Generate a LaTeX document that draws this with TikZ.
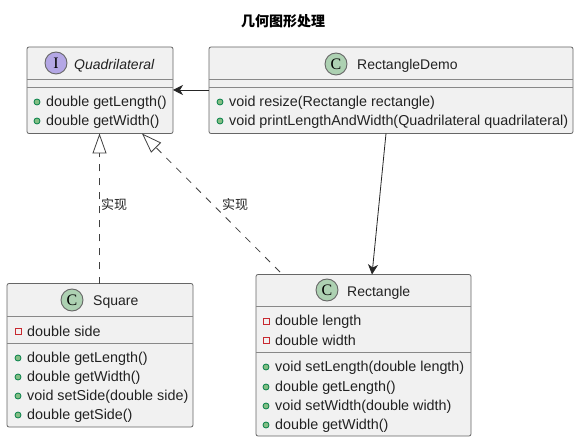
\documentclass[tikz,border=0pt]{standalone}
\usepackage{fontspec}
\setmainfont{Liberation Sans}
\newfontfamily\cjkfont{Noto Sans CJK SC}
\newfontfamily\glyphfont{Liberation Serif}
\usetikzlibrary{arrows.meta,calc}
\definecolor{boxfill}{HTML}{F1F1F1}
\definecolor{boxline}{HTML}{666666}
\definecolor{sepline}{HTML}{888888}
\definecolor{classc}{HTML}{ADD1B2}
\definecolor{ifacec}{HTML}{B4A7E5}
\definecolor{pubfill}{HTML}{84BE84}
\definecolor{publine}{HTML}{038048}
\definecolor{privline}{HTML}{C82930}
\definecolor{inktext}{HTML}{222222}
\tikzset{
  x=1pt,y=-1pt,
  umlbox/.style={draw=boxline,fill=boxfill,line width=.8pt,rounded corners=2pt,inner sep=0pt,outer sep=0pt},
  sepl/.style={draw=sepline,line width=.9pt},
  badge/.style={circle,draw=boxline,line width=.9pt,minimum size=22pt,inner sep=0pt,font=\glyphfont\fontsize{16}{16}\selectfont,text=black},
  member/.style={anchor=west,inner sep=0pt,yshift=-.8pt,text=inktext,font=\fontsize{14.35}{16}\selectfont},
  headtxt/.style={anchor=west,inner sep=0pt,yshift=-.6pt,text=inktext,font=\fontsize{14}{16}\selectfont},
  pubdot/.style={circle,draw=publine,fill=pubfill,line width=.8pt,minimum size=6pt,inner sep=0pt},
  privdot/.style={rectangle,draw=privline,fill=none,line width=.8pt,minimum size=6pt,inner sep=0pt},
  assoc/.style={draw=black!85,line width=.8pt,-{Stealth[length=10pt,width=10pt,inset=3pt]}},
  realize/.style={draw=black!75,line width=.8pt,dash pattern=on 7pt off 7pt,-{Triangle[open,length=20pt,width=14pt,fill=white]}},
  edgelabel/.style={inner sep=0pt,text=inktext,font=\cjkfont\fontsize{13}{14}\selectfont},
}
\newcommand{\umlbox}[7]{% name, x1,y1,x2,y2, sep1, sep2
  \node[umlbox,minimum width=#4-#2,minimum height=#5-#3,anchor=north west] (#1) at (#2,#3) {};
  \draw[sepl] (#2,#6) -- (#4,#6);
  \draw[sepl] (#2,#7) -- (#4,#7);
}
\newcommand{\pubm}[5]{% name, xdot, xtext, y, text
  \node[pubdot] (#1d) at (#2,#4) {};
  \node[member] (#1) at (#3,#4) {#5};
}
\newcommand{\privm}[5]{%
  \node[privdot] (#1d) at (#2,#4) {};
  \node[member] (#1) at (#3,#4) {#5};
}
\begin{document}
\begin{tikzpicture}
\useasboundingbox (0,0) rectangle (580,443);
\fill[white] (0,0) rectangle (580,443);
\node[inner sep=0pt,font=\cjkfont\bfseries\fontsize{14}{16}\selectfont] (title) at (283,21) {几何图形处理};

\umlbox{quad}{27}{47}{173}{133.5}{79}{87}
\node[badge,fill=ifacec] (quadb) at (56,63) {I};
\node[headtxt,font=\itshape\fontsize{14}{16}\selectfont] (quadt) at (74,65) {Quadrilateral};
\pubm{q1}{37}{46}{102}{double getLength()}
\pubm{q2}{37}{46}{121}{double getWidth()}

\umlbox{demo}{209}{47}{573}{133.5}{79}{87}
\node[badge,fill=classc] (demob) at (336,64) {C};
\node[headtxt] (demot) at (357,65) {RectangleDemo};
\pubm{d1}{220}{229}{102}{void resize(Rectangle rectangle)}
\pubm{d2}{220}{229}{121}{void printLengthAndWidth(Quadrilateral quadrilateral)}

\umlbox{sq}{7}{283.5}{193}{427}{316}{343}
\node[badge,fill=classc] (sqb) at (72,300) {C};
\node[headtxt] (sqt) at (93,301) {Square};
\privm{s0}{18}{27}{331}{double side}
\pubm{s1}{18}{27}{358}{double getLength()}
\pubm{s2}{18}{27}{377}{double getWidth()}
\pubm{s3}{18}{27}{396}{void setSide(double side)}
\pubm{s4}{18}{27}{415}{double getSide()}

\umlbox{rect}{256}{274.5}{471}{436}{306}{352}
\node[badge,fill=classc] (rectb) at (327,290) {C};
\node[headtxt] (rectt) at (347,292) {Rectangle};
\privm{r0}{266}{275}{321}{double length}
\privm{r1}{266}{275}{340}{double width}
\pubm{r2}{266}{275}{367}{void setLength(double length)}
\pubm{r3}{266}{275}{387}{double getLength()}
\pubm{r4}{266}{275}{406}{void setWidth(double width)}
\pubm{r5}{266}{275}{425}{double getWidth()}

\draw[assoc] ($(demo.south west)+(0,-43.5)$) -- ($(quad.south east)+(0,-43.5)$);
\draw[assoc] ($(demo.south west)+(177,0)$) -- ($(rect.north west)+(116,0)$);
\draw[realize] ($(sq.north west)+(92.5,0)$) -- ($(quad.south west)+(72.5,0)$);
\draw[realize] ($(rect.north west)+(24,-2.5)$) -- ($(quad.south west)+(115,0)$);
\node[edgelabel] (l1) at (114,205) {实现};
\node[edgelabel] (l2) at (235,205) {实现};
\end{tikzpicture}
\end{document}
